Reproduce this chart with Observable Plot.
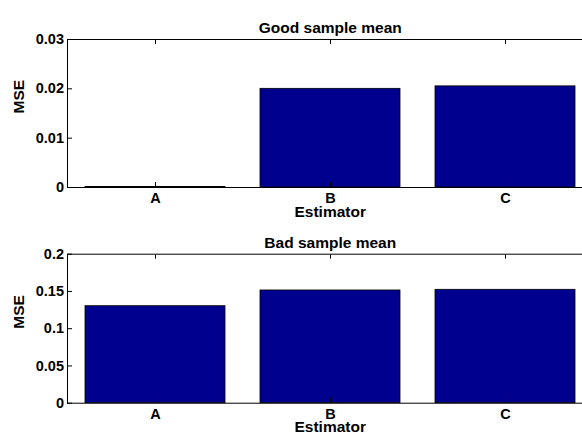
<!DOCTYPE html>
<html>
<head>
<meta charset="utf-8">
<script src="https://cdn.jsdelivr.net/npm/d3@7"></script>
<script src="https://cdn.jsdelivr.net/npm/@observablehq/plot@0.6"></script>
<style>
  html, body { margin: 0; padding: 0; background: #fff; }
  #chart svg { display: block; }
</style>
</head>
<body>
<div id="chart"></div>
<script>
const estimators = ["A", "B", "C"];
const goodMSE = [0.0001, 0.0200, 0.0205];
const badMSE = [0.1302, 0.1513, 0.1522];
const goodTicks = [0, 0.01, 0.02, 0.03];
const badTicks = [0, 0.05, 0.1, 0.15, 0.2];
const titles = ["Good sample mean", "Bad sample mean"];
const xLabel = "Estimator";
const yLabel = "MSE";

const FONT = "'Liberation Sans', Arial, Helvetica, sans-serif";

function panel(values, ticks, title, opts) {
  const rows = estimators.map((e, i) => ({estimator: e, mse: values[i]}));
  return Plot.plot({
    width: 582,
    height: opts.height,
    marginTop: opts.marginTop,
    marginBottom: opts.marginBottom,
    marginLeft: 67,
    marginRight: -10.5,
    style: {fontFamily: FONT, fontSize: "14.5px", fontWeight: "bold", color: "black", background: "white", overflow: "hidden"},
    x: {type: "band", domain: estimators, paddingInner: 0.2, paddingOuter: 0.1, label: null},
    y: {domain: [ticks[0], ticks[ticks.length - 1]], label: null},
    marks: [
      Plot.barY(rows, {x: "estimator", y: "mse", fill: "#00008F", stroke: "black", strokeWidth: 0.8}),
      Plot.frame({stroke: "black", strokeWidth: 1}),
      Plot.axisX({anchor: "bottom", tickSize: 0, tickPadding: 5.5, label: null}),
      Plot.axisX({anchor: "bottom", tickSize: -5, tickFormat: () => "", label: null}),
      Plot.axisX({anchor: "top", tickSize: -4, tickFormat: () => "", label: null}),
      Plot.axisY({anchor: "left", ticks: ticks, tickSize: 0, tickPadding: 3.5, tickFormat: d => String(d), label: null}),
      Plot.axisY({anchor: "left", ticks: ticks, tickSize: -5, tickFormat: () => "", label: null}),
      Plot.text([title], {frameAnchor: "top", dy: -opts.titleOffset, fontSize: 15.5}),
      Plot.text([xLabel], {frameAnchor: "bottom", dy: opts.xLabelOffset, fontSize: 15.5}),
      Plot.text([yLabel], {frameAnchor: "left", dx: -48, rotate: -90, fontSize: 15.5})
    ]
  });
}

const chart = document.getElementById("chart");
chart.appendChild(panel(goodMSE, goodTicks, titles[0], {height: 222, marginTop: 39, marginBottom: 35, titleOffset: 18, xLabelOffset: 29}));
chart.appendChild(panel(badMSE, badTicks, titles[1], {height: 217, marginTop: 31.7, marginBottom: 36.3, titleOffset: 17, xLabelOffset: 28.3}));
</script>
</body>
</html>
